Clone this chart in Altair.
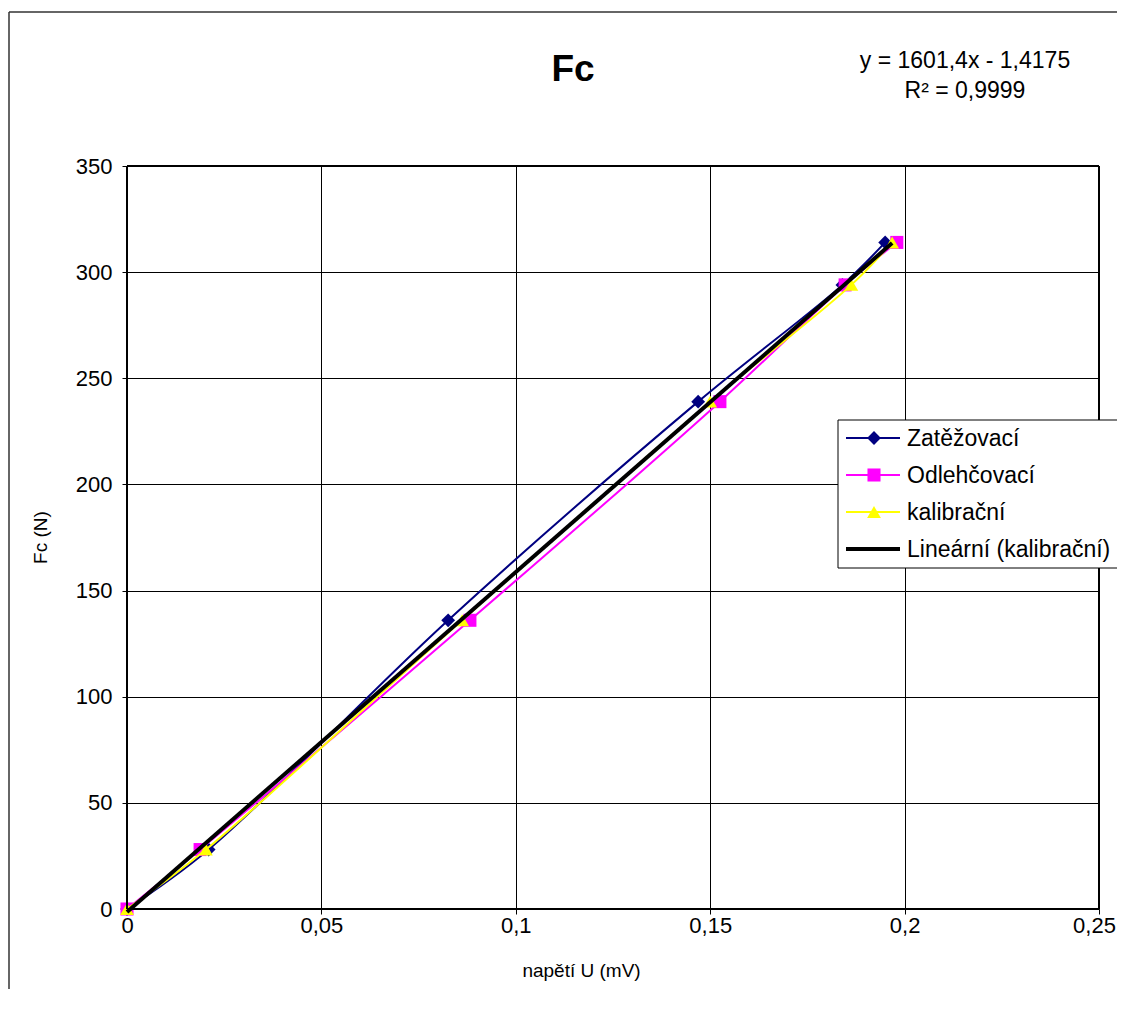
import altair as alt
import pandas as pd

# ---- data ----
series_names = ["Zatěžovací", "Odlehčovací", "kalibrační"]
y_vals = [0, 28, 136, 239, 294, 314]
zat_x = [0, 0.021, 0.0826, 0.1469, 0.1840, 0.1950]
odl_x = [0, 0.0188, 0.0882, 0.1525, 0.1847, 0.1980]
kal_x = [0, 0.0203, 0.0862, 0.1500, 0.1863, 0.1968]
x_ticks = [0, 0.05, 0.1, 0.15, 0.2, 0.25]
y_ticks = [0, 50, 100, 150, 200, 250, 300, 350]
fit_slope = 1601.4
fit_icpt = -1.4175
fit_label = "Lineární (kalibrační)"
eq_text = "y = 1601,4x - 1,4175"
r2_text = "R² = 0,9999"

colors = ["#000080", "#FF00FF", "#FFFF00"]
shapes = ["diamond", "square", "triangle-up"]
sizes = [190, 170, 190]

FONT = "Liberation Sans"
W, H = 972, 743

xs_all = [zat_x, odl_x, kal_x]
frames = []
for name, xs in zip(series_names, xs_all):
    frames.append(pd.DataFrame({"series": name, "x": xs, "y": y_vals, "i": range(len(xs))}))

fit_x = [min(kal_x), max(kal_x)]
fit_df = pd.DataFrame({"x": fit_x, "y": [fit_slope * v + fit_icpt for v in fit_x]})
one = pd.DataFrame({"k": [0]})

X = alt.X("x:Q", scale=alt.Scale(domain=[0, 0.25], nice=False, zero=False),
          axis=alt.Axis(values=x_ticks, labelExpr="replace(toString(datum.value), '.', ',')",
                        title="napětí U (mV)", titleX=454, titleY=61, titleBaseline="middle",
                        titleAnchor="start", titleAlign="center", grid=True, domain=False,
                        tickSize=5, labelPadding=1, labelFlush=False,
                        labelOffset={"condition": {"test": "datum.value > 0.24", "value": -5},
                                     "value": 0}))
Y = alt.Y("y:Q", scale=alt.Scale(domain=[0, 350], nice=False, zero=False),
          axis=alt.Axis(values=y_ticks, title="Fc (N)", titleX=-87, titleY=371,
                        titleBaseline="middle", titleAlign="center", titleAnchor="start",
                        grid=True, domain=False, tickSize=5, labelPadding=10, labelFlush=False))

layers = []
for k, (df, c, sh, sz) in enumerate(zip(frames, colors, shapes, sizes)):
    enc_x = X if k == 0 else alt.X("x:Q")
    enc_y = Y if k == 0 else alt.Y("y:Q")
    layers.append(alt.Chart(df).mark_line(color=c, strokeWidth=2, interpolate="catmull-rom")
                  .encode(x=enc_x, y=enc_y, order="i:Q"))
    layers.append(alt.Chart(df).mark_point(filled=True, shape=sh, size=sz, color=c, opacity=1)
                  .encode(x="x:Q", y="y:Q"))

layers.append(alt.Chart(fit_df).mark_line(color="black", strokeWidth=4)
              .encode(x="x:Q", y="y:Q"))

# plot-area frame
def rule(x, x2, y, y2, w=2, col="black"):
    return alt.Chart(one).mark_rule(color=col, strokeWidth=w).encode(
        x=alt.value(x), x2=alt.value(x2), y=alt.value(y), y2=alt.value(y2))

layers.append(rule(0, W, 0, 0))
layers.append(rule(0, W, H, H))
layers.append(rule(0, 0, 0, H))
layers.append(rule(W, W, 0, H))
# outer chart-area border
layers.append(rule(-118, -118, -154, H + 100, 1.5, "#333333"))
layers.append(rule(-118, W + 100, -154, -154, 1.5, "#333333"))

# legend (drawn manually to mimic line+marker symbols)
LX, LY = 711, 254
layers.append(alt.Chart(one).mark_rect(fill="white", stroke="black", strokeWidth=1).encode(
    x=alt.value(LX), x2=alt.value(LX + 320), y=alt.value(LY), y2=alt.value(LY + 148)))
entry_y = [LY + 18 + 37 * j for j in range(4)]
leg_names = series_names + [fit_label]
for j, yy in enumerate(entry_y):
    if j < 3:
        layers.append(rule(LX + 8, LX + 62, yy, yy, 2, colors[j]))
        layers.append(alt.Chart(one).mark_point(filled=True, shape=shapes[j], size=sizes[j],
                                                color=colors[j], opacity=1)
                      .encode(x=alt.value(LX + 36), y=alt.value(yy)))
    else:
        layers.append(rule(LX + 8, LX + 62, yy, yy, 4, "black"))
    layers.append(alt.Chart(one).mark_text(align="left", baseline="middle", font=FONT,
                                           fontSize=23, color="black")
                  .encode(x=alt.value(LX + 69), y=alt.value(yy + 1), text=alt.value(leg_names[j])))

# title and equation
layers.append(alt.Chart(one).mark_text(align="center", baseline="middle", font=FONT,
                                       fontSize=37, fontWeight="bold", color="black")
              .encode(x=alt.value(446), y=alt.value(-96), text=alt.value("Fc")))
layers.append(alt.Chart(one).mark_text(align="center", baseline="middle", font=FONT,
                                       fontSize=23, color="black")
              .encode(x=alt.value(838), y=alt.value(-105), text=alt.value(eq_text)))
layers.append(alt.Chart(one).mark_text(align="center", baseline="middle", font=FONT,
                                       fontSize=23, color="black")
              .encode(x=alt.value(838), y=alt.value(-75), text=alt.value(r2_text)))

chart = alt.layer(*layers).properties(
    width=W, height=H,
    autosize=alt.AutoSizeParams(type="none"),
    padding={"left": 119, "top": 158, "right": 18, "bottom": 80},
    background="white",
).configure_view(stroke="transparent").configure_axis(
    labelFont=FONT, labelFontSize=22, labelColor="black",
    titleFont=FONT, titleFontSize=19, titleFontWeight="normal", titleColor="black",
    gridColor="black", gridWidth=1, gridOpacity=1, tickColor="black", tickWidth=1,
)

chart.save("out.html", embed_options={"renderer": "svg", "actions": False})
